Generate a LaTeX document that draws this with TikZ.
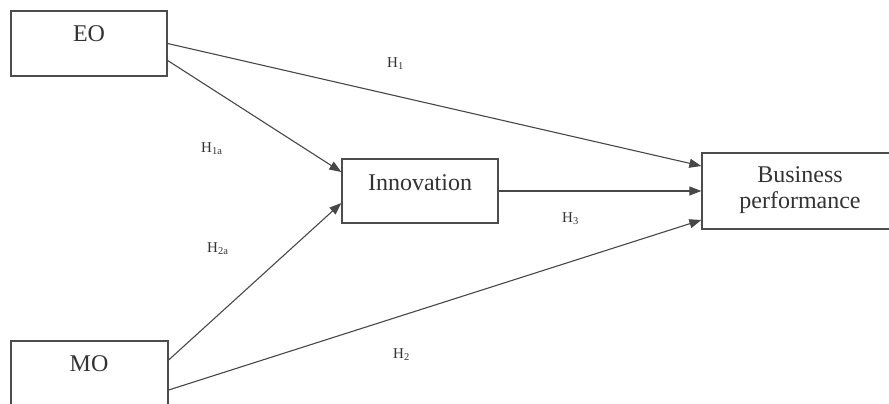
\documentclass[tikz,border=0pt]{standalone}
\usepackage{fontspec}
\setmainfont{Liberation Serif}
\usetikzlibrary{arrows.meta}
\begin{document}
\begin{tikzpicture}[x=1pt,y=-1pt,
  box/.style={draw=black!70,line width=1.3pt,rectangle,inner sep=0pt},
  boxtext/.style={font=\fontsize{24}{26}\selectfont,text=black!80,inner sep=0pt,anchor=base},
  hyp/.style={font=\fontsize{15}{17}\selectfont,text=black!80,inner sep=0pt,anchor=base west},
  conn/.style={draw=black!72,line width=1.1pt},
  arr/.style={conn,-{Triangle[length=12pt,width=9pt]}}]
\useasboundingbox (0,0) rectangle (889,404);
% boxes
\node[box,minimum width=156pt,minimum height=65pt] (eo) at (89,43.5) {};
\node[box,minimum width=157pt,minimum height=65pt] (mo) at (89.5,373.5) {};
\node[box,minimum width=156pt,minimum height=64pt] (inno) at (420,191) {};
\node[box,minimum width=196pt,minimum height=76pt] (bp) at (800,191) {};
% box texts
\node[boxtext] (eot) at (89,42) {EO};
\node[boxtext] (mot) at (89,371) {MO};
\node[boxtext] (innot) at (420,190) {Innovation};
\node[boxtext] (bpt1) at (800,182) {Business};
\node[boxtext] (bpt2) at (800,208) {performance};
% connectors
\draw[arr] (eo.east) -- ([yshift=25pt]bp.west);
\draw[arr] ([yshift=-17pt]eo.east) -- ([yshift=19pt]inno.west);
\draw[arr] ([yshift=13.5pt]mo.east) -- ([yshift=-12pt]inno.west);
\draw[arr] (inno.east) -- (bp.west);
\draw[arr] ([yshift=-16.5pt]mo.east) -- ([yshift=-29pt]bp.west);
% hypothesis labels
\node[hyp] (h1) at (387,67) {H\textsubscript{1}};
\node[hyp] (h1a) at (201,152) {H\textsubscript{1a}};
\node[hyp] (h2a) at (207,252) {H\textsubscript{2a}};
\node[hyp] (h3) at (562,222) {H\textsubscript{3}};
\node[hyp] (h2) at (393,358) {H\textsubscript{2}};
\end{tikzpicture}
\end{document}
